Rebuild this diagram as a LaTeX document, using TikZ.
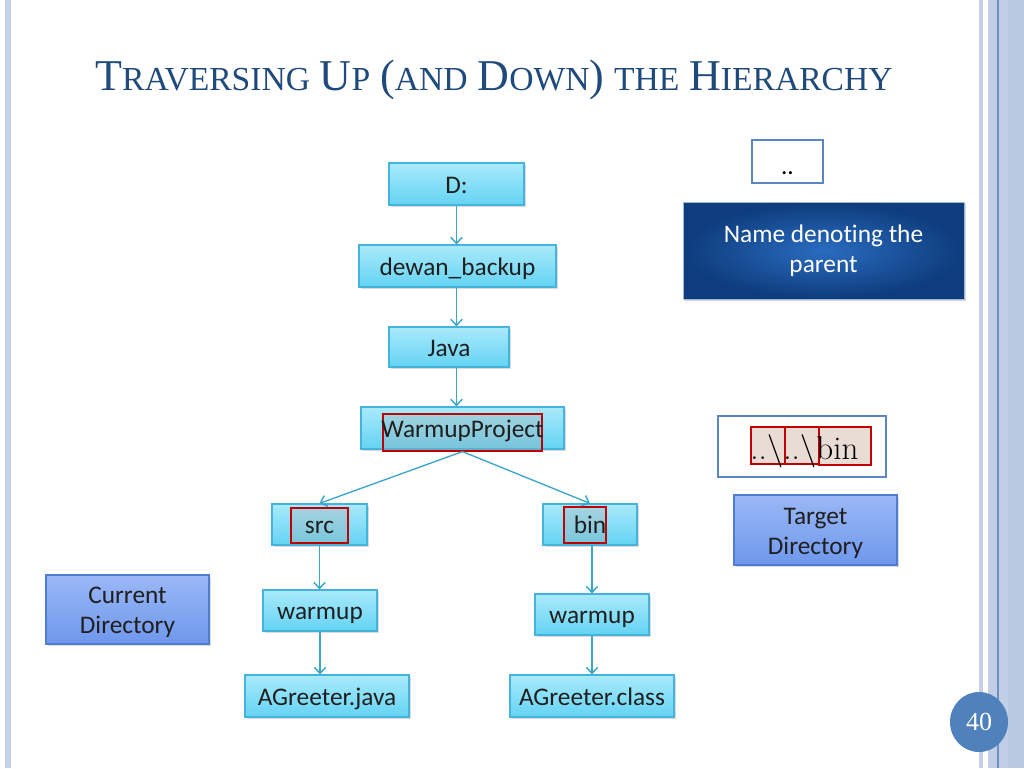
\documentclass[tikz,border=0pt]{standalone}
\usepackage{fontspec}
\newfontfamily\bodyfont[Ligatures=NoCommon]{Carlito}
\newfontfamily\titlefont{Liberation Serif}
\usetikzlibrary{arrows.meta,shadows,calc}
\definecolor{titleblue}{HTML}{1F4A7C}
\definecolor{arrowcol}{HTML}{3AA6CC}
\definecolor{cyanborder}{HTML}{45B4DC}
\definecolor{cyantop}{HTML}{A9EAFB}
\definecolor{cyanbot}{HTML}{64D3F3}
\definecolor{redline}{HTML}{C00000}
\definecolor{periTop}{HTML}{9BB8F6}
\definecolor{periBot}{HTML}{6E97EC}
\definecolor{periBorder}{HTML}{4F7DD6}
\definecolor{navyIn}{HTML}{2A6CC0}
\definecolor{navyOut}{HTML}{0E3C7C}
\definecolor{frameblue}{HTML}{5A86C4}
\definecolor{stripe}{HTML}{C3D0E7}
\definecolor{stripeB}{HTML}{B9C8E1}
\definecolor{stripeC}{HTML}{C1CEE6}
\definecolor{stripeline}{HTML}{6F90C3}
\definecolor{circblue}{HTML}{4F81BD}
\definecolor{beige}{HTML}{E9DCD4}
\newcommand\Tbig[1]{{\fontsize{33}{33}\selectfont #1}}
\newcommand\Tsm[1]{{\fontsize{25.2}{25.2}\selectfont #1}}
\tikzset{
  cyanbox/.style={draw=cyanborder, line width=0.9pt, top color=cyantop, bottom color=cyanbot,
    drop shadow={shadow xshift=1.2pt, shadow yshift=-1.5pt, opacity=0.28},
    font=\bodyfont\fontsize{19}{19}\selectfont, text=black!88, inner sep=0pt,
    text height=17.5pt, text depth=4pt},
  redbox/.style={draw=redline, line width=0.9pt, fill=gray!70, fill opacity=0.3, inner sep=0pt},
  txt/.style={font=\bodyfont\fontsize{19}{19}\selectfont, text=black!88, inner sep=0pt,
    text height=17.5pt, text depth=4pt},
  peribox/.style={draw=periBorder, line width=0.9pt, top color=periTop, bottom color=periBot,
    drop shadow={shadow xshift=1.2pt, shadow yshift=-1.5pt, opacity=0.28}, inner sep=0pt},
  peritxt/.style={font=\bodyfont\fontsize{19}{22.5}\selectfont, text=black!88, align=center, inner sep=0pt},
  arr/.style={draw=arrowcol, line width=1pt, -{Straight Barb[length=4.5pt,width=8.5pt,line width=1.1pt]}},
}
\begin{document}
\begin{tikzpicture}[x=0.75pt,y=-0.75pt]
\useasboundingbox (0,0) rectangle (1024,768);
\fill[white] (0,0) rectangle (1024,768);
% border stripes
\fill[stripe] (5,0) rectangle (11,768);
\fill[stripe] (979,0) rectangle (983,768);
\fill[stripeC] (988,0) rectangle (1008,768);
\fill[stripeB] (1008,0) rectangle (1024,768);
\draw[stripeline, line width=0.8pt] (998,0) -- (998,768);
% title
\node[anchor=base west, inner sep=0pt, text=titleblue, font=\titlefont\fontsize{29.5}{33}\selectfont] (title) at (95,90)
 {\Tbig{T}\Tsm{RAVERSING} \Tbig{U}\Tsm{P} \Tbig{(}\Tsm{AND} \Tbig{D}\Tsm{OWN}\Tbig{)} \Tsm{THE} \Tbig{H}\Tsm{IERARCHY}};
% tree nodes
\node[cyanbox, minimum width=101.25pt, minimum height=31.5pt] (D) at (456.5,184) {D:};
\node[cyanbox, minimum width=147.75pt, minimum height=31.5pt] (dewan) at (457.5,266) {dewan\_backup};
\node[cyanbox, minimum width=90pt, minimum height=30pt] (java) at (449,347) {Java};
\node[cyanbox, minimum width=152.25pt, minimum height=31.5pt] (warm) at (462.5,428) {};
\node[redbox, minimum width=119.25pt, minimum height=27.75pt] (wred) at (462.5,432.5) {};
\node[txt] (wtext) at (462.5,428) {WarmupProject};
\node[cyanbox, minimum width=71.25pt, minimum height=30.75pt] (src) at (319.5,524.5) {};
\node[redbox, minimum width=42.75pt, minimum height=26.25pt] (srcred) at (319.5,525.5) {};
\node[txt] (srctext) at (319.5,524) {src};
\node[cyanbox, minimum width=70.5pt, minimum height=30.75pt] (bin) at (590,524.5) {};
\node[redbox, minimum width=31.5pt, minimum height=27pt] (binred) at (585,525) {};
\node[txt] (bintext) at (590,524) {bin};
\node[cyanbox, minimum width=85.5pt, minimum height=30.75pt] (wl) at (320,610.5) {warmup};
\node[cyanbox, minimum width=85.5pt, minimum height=30.75pt] (wr) at (592,614.5) {warmup};
\node[cyanbox, minimum width=123pt, minimum height=31.5pt] (agj) at (327,696) {AGreeter.java};
\node[cyanbox, minimum width=123pt, minimum height=31.5pt] (agc) at (592,696) {AGreeter.class};
% arrows
\draw[arr] (D.south) -- (D.south |- dewan.north);
\draw[arr] (D.south |- dewan.south) -- (D.south |- java.north);
\draw[arr] (D.south |- java.south) -- (D.south |- warm.north);
\draw[arr] (wred.south) -- (src.north);
\draw[arr] (wred.south) -- (bin.north);
\draw[arr] (src.south) -- (src.south |- wl.north);
\draw[arr] (wr.north |- bin.south) -- (wr.north);
\draw[arr] (wl.south) -- (wl.south |- agj.north);
\draw[arr] (wr.south) -- (agc.north);
% side boxes
\node[peribox, minimum width=122.25pt, minimum height=51.75pt] (cur) at (127.5,609.5) {};
\node[peritxt] (curtext) at (127.5,612.5) {Current\\Directory};
\node[peribox, minimum width=122.25pt, minimum height=52.5pt] (tgt) at (815.5,530) {};
\node[peritxt] (tgttext) at (815.5,533) {Target\\Directory};
\node[draw=frameblue, line width=1.5pt, fill=white, minimum width=53.25pt, minimum height=32.25pt,
  text height=20pt, text depth=0pt, inner sep=0pt, font=\bodyfont\fontsize{19}{19}\selectfont] (dots) at (787.5,161.5) {..};
\node[draw=frameblue!60, line width=0.6pt, inner color=navyIn, outer color=navyOut,
  drop shadow={shadow xshift=1.5pt, shadow yshift=-1.8pt, opacity=0.3},
  minimum width=210.75pt, minimum height=72.75pt, text=white, align=center,
  font=\bodyfont\fontsize{19}{22.5}\selectfont, inner sep=0pt] (name) at (823.5,250.5) {Name denoting the\\parent};
% path box
\node[draw=frameblue, line width=1.8pt, fill=white, minimum width=126pt, minimum height=45.75pt, inner sep=0pt] (pathbox) at (802,446.5) {};
\node[draw=redline, line width=0.9pt, fill=beige, minimum width=25.5pt, minimum height=27.75pt, inner sep=0pt] (p1) at (768,445.5) {};
\node[draw=redline, line width=0.9pt, fill=beige, minimum width=25.5pt, minimum height=27.75pt, inner sep=0pt] (p2) at (802,445.5) {};
\node[draw=redline, line width=0.9pt, fill=beige, minimum width=39pt, minimum height=28.5pt, inner sep=0pt] (p3) at (845,446) {};
\node[anchor=base west, inner sep=0pt, font=\rmfamily\fontsize{24.8}{24.8}\selectfont, text=black] (ptext) at (750,459)
 {..\textbackslash..\textbackslash bin};
% page number
\fill[circblue] (979,722) ellipse [x radius=29, y radius=30];
\node[text=white, font=\titlefont\fontsize{19.5}{19.5}\selectfont, inner sep=0pt] (pg) at (979,722) {40};
\end{tikzpicture}
\end{document}
